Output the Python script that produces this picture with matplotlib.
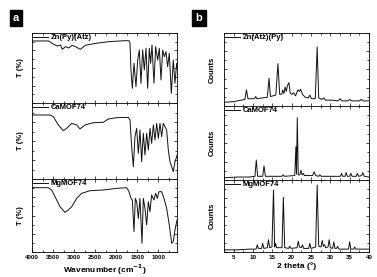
import matplotlib
matplotlib.use("Agg")
import matplotlib.pyplot as plt
from matplotlib.ticker import MultipleLocator, NullFormatter

plt.rcParams['font.family'] = ['Liberation Sans', 'DejaVu Sans']
plt.rcParams['font.weight'] = 'bold'
plt.rcParams['mathtext.default'] = 'bf'

# FTIR spectra (wavenumber, cm-1 / transmittance, normalised)
ir_labels = ['Zn(Py)(Atz)', 'CaMOF74', 'MgMOF74']

zn_wn = [4000, 3600, 3525, 3400, 3320, 3280, 3200, 3125, 3045, 2965, 2850, 2730, 2490, 2175, 1800,
         1690, 1668, 1645, 1613, 1573, 1526, 1486, 1447, 1407, 1367, 1328, 1288, 1248, 1209, 1177,
         1145, 1098, 1058, 1010, 971, 931, 891, 852, 812, 773, 733, 685, 638, 598, 558, 540]
zn_t = [0.886, 0.886, 0.852, 0.814, 0.829, 0.767, 0.805, 0.786, 0.824, 0.805, 0.767, 0.824, 0.852, 0.876, 0.89,
        0.89, 0.852, 0.471, 0.21, 0.567, 0.233, 0.614, 0.757, 0.281, 0.757, 0.471, 0.781, 0.21, 0.781, 0.567,
        0.829, 0.281, 0.805, 0.614, 0.781, 0.329, 0.757, 0.662, 0.733, 0.519, 0.71, 0.138, 0.614, 0.281, 0.567, 0.5]

ca_wn = [4000, 3572, 3493, 3374, 3255, 3175, 3056, 2937, 2858, 2739, 2541, 2303, 2184, 1986, 1708,
         1668, 1629, 1589, 1550, 1510, 1470, 1431, 1391, 1351, 1312, 1272, 1232, 1193, 1153, 1113,
         1074, 1034, 994, 955, 915, 876, 836, 796, 757, 717, 677, 638, 598, 558, 540]
ca_t = [0.842, 0.842, 0.82, 0.711, 0.636, 0.667, 0.732, 0.711, 0.658, 0.711, 0.741, 0.746, 0.789, 0.807, 0.811,
        0.776, 0.425, 0.162, 0.557, 0.667, 0.338, 0.645, 0.228, 0.601, 0.316, 0.601, 0.382, 0.667, 0.469, 0.711,
        0.513, 0.732, 0.535, 0.732, 0.557, 0.732, 0.689, 0.645, 0.382, 0.228, 0.162, 0.096, 0.228, 0.294, 0.33]

mg_wn = [4000, 3612, 3532, 3453, 3334, 3215, 3136, 3056, 2937, 2818, 2620, 2303, 1986, 1748, 1692,
         1645, 1613, 1573, 1542, 1510, 1470, 1431, 1383, 1351, 1312, 1272, 1232, 1193, 1153, 1098,
         1058, 1018, 979, 915, 860, 796, 733, 677, 638, 598, 558, 540]
mg_t = [0.881, 0.881, 0.849, 0.758, 0.621, 0.543, 0.575, 0.621, 0.735, 0.804, 0.84, 0.849, 0.872, 0.881, 0.826,
        0.735, 0.712, 0.279, 0.735, 0.689, 0.461, 0.735, 0.119, 0.735, 0.598, 0.37, 0.689, 0.553, 0.781, 0.712,
        0.804, 0.735, 0.826, 0.826, 0.735, 0.598, 0.37, 0.119, 0.142, 0.301, 0.416, 0.45]

# XRD patterns (2 theta, deg / counts, normalised)
xrd_labels = ['Zn(Atz)(Py)', 'CaMOF74', 'MgMOF74']

zn_2t = [2.5, 5, 7, 7.9, 8.3, 8.7, 10.4, 10.7, 11, 13.7, 14.15, 14.5, 15.9, 16.45, 16.9,
         17.4, 17.7, 18.0, 18.3, 18.6, 18.9, 19.3, 19.6, 20.0, 20.5, 21.0, 21.6, 22.0, 22.3, 22.8,
         23.5, 24.3, 24.7, 25.1, 26.1, 26.6, 27.0, 27.8, 28.3, 28.8, 30.5, 32.0, 32.5, 33.0,
         34.5, 35.0, 35.5, 37.5, 38.0, 38.5, 40]
zn_cnt = [0.05, 0.06, 0.08, 0.09, 0.22, 0.1, 0.1, 0.13, 0.1, 0.12, 0.38, 0.13, 0.15, 0.58, 0.16,
          0.16, 0.22, 0.17, 0.26, 0.2, 0.28, 0.32, 0.18, 0.16, 0.18, 0.14, 0.22, 0.2, 0.23, 0.16,
          0.12, 0.11, 0.15, 0.1, 0.1, 0.81, 0.11, 0.09, 0.11, 0.08, 0.08, 0.07, 0.1, 0.07,
          0.07, 0.09, 0.07, 0.07, 0.09, 0.07, 0.07]

ca_2t = [2.5, 6, 9, 10.5, 10.85, 11.2, 12.5, 12.85, 13.2, 17.5, 17.8, 18.1, 20.8, 21.1, 21.25,
         21.45, 21.7, 22.1, 22.4, 22.7, 23.0, 23.3, 25.4, 25.8, 26.2, 27.0, 27.3, 27.6, 30,
         32.6, 32.9, 33.2, 33.8, 34.1, 34.4, 35.0, 35.3, 35.6, 36.7, 37.0, 37.3, 38.1, 38.4, 38.8, 40]
ca_cnt = [0.03, 0.04, 0.04, 0.05, 0.27, 0.05, 0.05, 0.19, 0.05, 0.05, 0.07, 0.05, 0.06, 0.45, 0.08,
          0.84, 0.07, 0.07, 0.13, 0.07, 0.09, 0.06, 0.06, 0.11, 0.06, 0.05, 0.07, 0.05, 0.05,
          0.05, 0.09, 0.05, 0.05, 0.1, 0.05, 0.05, 0.09, 0.05, 0.05, 0.09, 0.05, 0.06, 0.1, 0.05, 0.04]

mg_2t = [2.5, 6, 9, 10.8, 11.1, 11.4, 12.2, 12.5, 12.8, 13.7, 14.0, 14.3, 14.9, 15.3, 15.6,
         15.8, 16.1, 17.5, 17.85, 18.2, 19.2, 19.5, 19.8, 21.4, 21.7, 22.0, 22.5, 22.8, 23.1,
         24.4, 24.7, 25.0, 26.2, 26.6, 27.0, 27.6, 27.9, 28.2, 28.5, 28.8, 29.4, 29.7, 30.0,
         30.6, 30.9, 31.2, 31.6, 31.9, 32.2, 34.7, 35.0, 35.3, 36.0, 36.3, 36.6, 38, 40]
mg_cnt = [0.03, 0.03, 0.04, 0.04, 0.1, 0.05, 0.05, 0.12, 0.05, 0.06, 0.17, 0.06, 0.07, 0.86, 0.07,
          0.12, 0.06, 0.06, 0.76, 0.06, 0.05, 0.08, 0.05, 0.06, 0.15, 0.07, 0.06, 0.1, 0.05,
          0.05, 0.12, 0.05, 0.07, 0.93, 0.08, 0.07, 0.16, 0.08, 0.1, 0.06, 0.07, 0.17, 0.06,
          0.05, 0.14, 0.05, 0.05, 0.08, 0.04, 0.04, 0.14, 0.04, 0.04, 0.07, 0.04, 0.04, 0.04]

W, H = 377, 277
fig = plt.figure(figsize=(W / 100, H / 100), dpi=100)


def px_axes(x0, x1, y0, y1):
    return fig.add_axes([x0 / W, 1 - y1 / H, (x1 - x0) / W, (y1 - y0) / H])


def style(ax, major, minor):
    ax.xaxis.set_major_locator(MultipleLocator(major))
    ax.xaxis.set_minor_locator(MultipleLocator(minor))
    ax.yaxis.set_major_locator(MultipleLocator(0.25))
    ax.yaxis.set_minor_locator(MultipleLocator(0.125))
    ax.yaxis.set_major_formatter(NullFormatter())
    ax.tick_params(which='both', direction='in', top=True, right=True, width=0.5, labelsize=4.5, pad=2)
    ax.tick_params(which='major', length=2.5)
    ax.tick_params(which='minor', length=1.3)
    for s in ax.spines.values():
        s.set_linewidth(0.6)
    ax.set_ylim(0, 1)


# panel a: FTIR
ir_rows = [(33, 103), (103, 179), (179, 252)]
ir_data = [(zn_wn, zn_t), (ca_wn, ca_t), (mg_wn, mg_t)]
for i, ((y0, y1), (wn, t)) in enumerate(zip(ir_rows, ir_data)):
    ax = px_axes(32, 177, y0, y1)
    ax.plot(wn, t, color='#111111', lw=0.7, label=ir_labels[i])
    ax.set_xlim(4000, 550)
    style(ax, 500, 250)
    ax.set_ylabel('T (%)', fontsize=5.5, fontweight='bold', labelpad=4)
    ax.legend(loc='upper left', frameon=False, fontsize=5.5, handlelength=1.9,
              handletextpad=0.4, borderaxespad=0.05, borderpad=0.1)
    if i < 2:
        ax.xaxis.set_major_formatter(NullFormatter())
    else:
        ax.set_xlabel('Wavenumber (cm$^{-1}$)', fontsize=6, fontweight='bold', labelpad=2)

# panel b: XRD
xrd_rows = [(33, 106), (106, 180), (180, 252)]
xrd_data = [(zn_2t, zn_cnt), (ca_2t, ca_cnt), (mg_2t, mg_cnt)]
for i, ((y0, y1), (th, c)) in enumerate(zip(xrd_rows, xrd_data)):
    ax = px_axes(224, 369, y0, y1)
    ax.plot(th, c, color='#111111', lw=0.7, label=xrd_labels[i])
    ax.set_xlim(2.5, 40)
    style(ax, 5, 2.5)
    ax.set_ylabel('Counts', fontsize=5.5, fontweight='bold', labelpad=4)
    ax.legend(loc='upper left', frameon=False, fontsize=5.5, handlelength=1.9,
              handletextpad=0.4, borderaxespad=0.05, borderpad=0.1)
    if i < 2:
        ax.xaxis.set_major_formatter(NullFormatter())
    else:
        ax.set_xlabel('2 theta (°)', fontsize=6, fontweight='bold', labelpad=2)

for lab, x in [('a', 16 / W), ('b', 199 / W)]:
    fig.text(x, 1 - 18 / H, lab, color='white', fontsize=8, fontweight='bold', ha='center', va='center',
             bbox=dict(boxstyle='square,pad=0.3', fc='black', ec='black'))

fig.savefig('out.png', dpi=100)
